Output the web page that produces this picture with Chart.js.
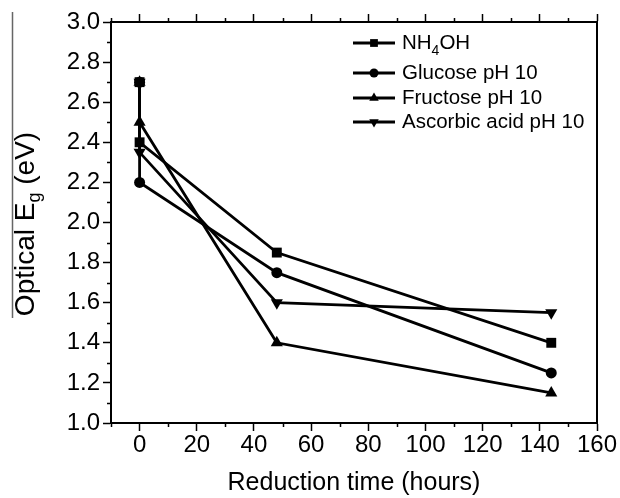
<!DOCTYPE html>
<html>
<head>
<meta charset="utf-8">
<script src="https://cdn.jsdelivr.net/npm/chart.js@4.4.1/dist/chart.umd.min.js"></script>
<style>
html,body{margin:0;padding:0;background:#fff;}
#wrap{position:relative;width:620px;height:498px;}
canvas{display:block;}
</style>
</head>
<body>
<div id="wrap"><canvas id="c" width="620" height="498"></canvas></div>
<script>
// ---- data ----
const hours = [0, 0, 48, 144];
const nh4oh = [2.7, 2.4, 1.85, 1.4];
const glucose = [2.7, 2.2, 1.75, 1.25];
const fructose = [2.7, 2.5, 1.4, 1.15];
const ascorbic = [2.7, 2.35, 1.6, 1.55];
const seriesNames = ['NH4OH', 'Glucose pH 10', 'Fructose pH 10', 'Ascorbic acid pH 10'];
const xMajorTicks = [0, 20, 40, 60, 80, 100, 120, 140, 160];
const xMinorTicks = [-10, 10, 30, 50, 70, 90, 110, 130, 150];
const yMajorTicks = [1.0, 1.2, 1.4, 1.6, 1.8, 2.0, 2.2, 2.4, 2.6, 2.8, 3.0];
const yMinorTicks = [1.1, 1.3, 1.5, 1.7, 1.9, 2.1, 2.3, 2.5, 2.7, 2.9];
const xTitle = 'Reduction time (hours)';
const yTitleMain = 'Optical E';
const yTitleSub = 'g';
const yTitleEnd = ' (eV)';

const FONT = '"Liberation Sans", Arial, sans-serif';
const toPts = (ys) => ys.map((y, i) => ({x: hours[i], y: y}));

const styles = [
  {pointStyle: 'rect', pointRadius: 7, rot: 0, legR: 5.5},
  {pointStyle: 'circle', pointRadius: 5.5, rot: 0, legR: 4.5},
  {pointStyle: 'triangle', pointRadius: 7, rot: 0, legR: 5.5},
  {pointStyle: 'triangle', pointRadius: 7, rot: 180, legR: 5.5}
];
const allSeries = [nh4oh, glucose, fructose, ascorbic];

const datasets = allSeries.map((s, i) => ({
  label: seriesNames[i],
  data: toPts(s),
  showLine: true,
  borderColor: '#000',
  backgroundColor: '#000',
  borderWidth: 2.8,
  pointStyle: styles[i].pointStyle,
  pointRadius: styles[i].pointRadius,
  pointRotation: styles[i].rot,
  pointBorderWidth: 0,
  pointBackgroundColor: '#000',
  tension: 0
}));

function fixSize(prop, v) { return function(scale){ scale[prop] = v; }; }

const minorPlugin = {
  id: 'minorTicks',
  afterDraw(chart) {
    const ctx = chart.ctx;
    const xs = chart.scales.x, ys = chart.scales.y, ca = chart.chartArea;
    ctx.save();
    ctx.strokeStyle = '#000';
    ctx.lineWidth = 1.5;
    ctx.beginPath();
    xMinorTicks.forEach(v => {
      const px = Math.round(xs.getPixelForValue(v)) + 0.5;
      ctx.moveTo(px, ca.bottom); ctx.lineTo(px, ca.bottom + 4);
      ctx.moveTo(px, ca.top); ctx.lineTo(px, ca.top - 4);
    });
    yMinorTicks.forEach(v => {
      const py = Math.round(ys.getPixelForValue(v)) + 0.5;
      ctx.moveTo(ca.left, py); ctx.lineTo(ca.left - 4, py);
    });
    ctx.stroke();
    ctx.restore();
  }
};

const yTitlePlugin = {
  id: 'yTitle',
  afterDraw(chart) {
    const ctx = chart.ctx;
    ctx.save();
    // thin grey rule seen at the far left of the original figure
    ctx.strokeStyle = '#666';
    ctx.lineWidth = 1.5;
    ctx.beginPath(); ctx.moveTo(12.5, 12); ctx.lineTo(12.5, 318); ctx.stroke();
    ctx.fillStyle = '#000';
    const mainFont = '28px ' + FONT, subFont = '18px ' + FONT;
    ctx.font = mainFont;
    const w1 = ctx.measureText(yTitleMain).width;
    const w3 = ctx.measureText(yTitleEnd).width;
    ctx.font = subFont;
    const w2 = ctx.measureText(yTitleSub).width;
    const total = w1 + w2 + w3;
    const cx = 34, cy = 224;
    ctx.translate(cx, cy);
    ctx.rotate(-Math.PI / 2);
    ctx.textBaseline = 'alphabetic';
    ctx.textAlign = 'left';
    let x = -total / 2;
    ctx.font = mainFont;
    ctx.fillText(yTitleMain, x, 0); x += w1;
    ctx.font = subFont;
    ctx.fillText(yTitleSub, x, 6); x += w2;
    ctx.font = mainFont;
    ctx.fillText(yTitleEnd, x, 0);
    ctx.restore();
  }
};

const legendPlugin = {
  id: 'customLegend',
  afterDraw(chart) {
    const ctx = chart.ctx;
    const rowsY = [43, 73, 98, 122];
    const x0 = 353, x1 = 395, xm = 374, tx = 402;
    ctx.save();
    chart.data.datasets.forEach((ds, i) => {
      const y = rowsY[i];
      ctx.strokeStyle = '#000';
      ctx.lineWidth = 2.8;
      ctx.beginPath(); ctx.moveTo(x0, y); ctx.lineTo(x1, y); ctx.stroke();
      ctx.fillStyle = '#000';
      ctx.lineWidth = 0.01;
      Chart.helpers.drawPoint(ctx, {pointStyle: styles[i].pointStyle, rotation: styles[i].rot, radius: styles[i].legR, borderWidth: 0}, xm, y);
      ctx.font = '20.5px ' + FONT;
      ctx.textBaseline = 'middle';
      ctx.textAlign = 'left';
      if (i === 0) {
        ctx.fillText('NH', tx, y);
        const w = ctx.measureText('NH').width;
        ctx.font = '14px ' + FONT;
        ctx.fillText('4', tx + w, y + 8);
        const w4 = ctx.measureText('4').width;
        ctx.font = '20.5px ' + FONT;
        ctx.fillText('OH', tx + w + w4, y);
      } else {
        ctx.fillText(ds.label, tx, y);
      }
    });
    ctx.restore();
  }
};

new Chart(document.getElementById('c'), {
  type: 'scatter',
  data: {datasets},
  plugins: [minorPlugin, yTitlePlugin, legendPlugin],
  options: {
    responsive: false,
    animation: false,
    devicePixelRatio: 1,
    layout: {padding: 0},
    plugins: {legend: {display: false}, tooltip: {enabled: false}},
    scales: {
      x: {
        type: 'linear', position: 'bottom', min: -10, max: 160,
        afterBuildTicks: (s) => { s.ticks = xMajorTicks.map(v => ({value: v})); },
        afterFit: fixSize('height', 75),
        border: {display: true, color: '#000', width: 2},
        grid: {drawOnChartArea: false, drawTicks: true, tickLength: 8, color: '#000', tickWidth: 1.5},
        ticks: {color: '#000', font: {family: FONT, size: 24}, padding: 0},
        title: {display: true, text: xTitle, color: '#000', font: {family: FONT, size: 25}, padding: {top: 13, bottom: 0}}
      },
      xTop: {
        type: 'linear', position: 'top', min: -10, max: 160,
        afterBuildTicks: (s) => { s.ticks = xMajorTicks.map(v => ({value: v})); },
        afterFit: fixSize('height', 22),
        border: {display: true, color: '#000', width: 2},
        grid: {drawOnChartArea: false, drawTicks: true, tickLength: 8, color: '#000', tickWidth: 1.5},
        ticks: {display: false}
      },
      y: {
        type: 'linear', position: 'left', min: 1.0, max: 3.0,
        afterBuildTicks: (s) => { s.ticks = yMajorTicks.map(v => ({value: v})); },
        afterFit: fixSize('width', 111),
        border: {display: true, color: '#000', width: 2},
        grid: {drawOnChartArea: false, drawTicks: true, tickLength: 8, color: '#000', tickWidth: 1.5},
        ticks: {color: '#000', font: {family: FONT, size: 24}, padding: 3, callback: (v) => Number(v).toFixed(1)}
      },
      yRight: {
        type: 'linear', position: 'right', min: 1.0, max: 3.0,
        afterFit: fixSize('width', 23),
        border: {display: true, color: '#000', width: 2},
        grid: {display: false, drawOnChartArea: false},
        ticks: {display: false}
      }
    }
  }
});
</script>
</body>
</html>
